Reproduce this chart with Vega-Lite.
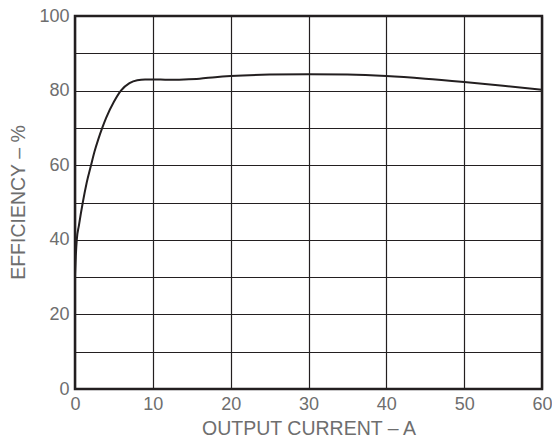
{
  "$schema": "https://vega.github.io/schema/vega-lite/v6.json",
  "width": 467,
  "height": 373,
  "autosize": {"type": "none"},
  "padding": {"left": 75, "top": 16, "right": 10, "bottom": 49},
  "background": "white",
  "config": {
    "view": {"stroke": "#231f20", "strokeWidth": 2.5},
    "axis": {
      "labelFont": "Liberation Sans",
      "titleFont": "Liberation Sans",
      "labelColor": "#6e6e6e",
      "titleColor": "#6e6e6e",
      "labelFontSize": 18,
      "titleFontSize": 19.5,
      "labelFontWeight": "normal",
      "titleFontWeight": "normal",
      "gridColor": "#231f20",
      "gridWidth": 1.2,
      "gridOpacity": 1,
      "domain": false,
      "ticks": false
    }
  },
  "data": {
    "values": [
      {"current": 0, "efficiency": 30.5},
      {"current": 0.1, "efficiency": 35.5},
      {"current": 0.23, "efficiency": 40},
      {"current": 0.5, "efficiency": 43.8},
      {"current": 1.0, "efficiency": 50},
      {"current": 1.5, "efficiency": 55.3},
      {"current": 2.06, "efficiency": 60},
      {"current": 2.5, "efficiency": 63.6},
      {"current": 3.0, "efficiency": 67},
      {"current": 3.5, "efficiency": 70},
      {"current": 4.0, "efficiency": 72.7},
      {"current": 5.0, "efficiency": 77},
      {"current": 5.9, "efficiency": 80},
      {"current": 7.0, "efficiency": 82},
      {"current": 8.0, "efficiency": 82.8},
      {"current": 9.0, "efficiency": 83},
      {"current": 10, "efficiency": 83},
      {"current": 12, "efficiency": 82.9},
      {"current": 14, "efficiency": 83},
      {"current": 16, "efficiency": 83.2},
      {"current": 18, "efficiency": 83.6},
      {"current": 20, "efficiency": 83.9},
      {"current": 25, "efficiency": 84.3},
      {"current": 30, "efficiency": 84.4},
      {"current": 35, "efficiency": 84.3},
      {"current": 40, "efficiency": 83.9},
      {"current": 45, "efficiency": 83.2},
      {"current": 50, "efficiency": 82.3},
      {"current": 55, "efficiency": 81.3},
      {"current": 60, "efficiency": 80.2}
    ]
  },
  "mark": {"type": "line", "interpolate": "monotone", "color": "#231f20", "strokeWidth": 2, "clip": true},
  "encoding": {
    "x": {
      "field": "current",
      "type": "quantitative",
      "scale": {"domain": [0, 60], "nice": false, "zero": false},
      "axis": {
        "title": "OUTPUT CURRENT – A",
        "values": [0, 10, 20, 30, 40, 50, 60],
        "labelPadding": 6,
        "labelFlush": false,
        "titleY": 39,
        "titleBaseline": "middle"
      }
    },
    "y": {
      "field": "efficiency",
      "type": "quantitative",
      "scale": {"domain": [0, 100], "nice": false, "zero": false},
      "axis": {
        "title": "EFFICIENCY – %",
        "values": [0, 10, 20, 30, 40, 50, 60, 70, 80, 90, 100],
        "labelExpr": "datum.value % 20 == 0 ? datum.label : ''",
        "labelPadding": 6,
        "labelFlush": false,
        "titleX": -57,
        "titleY": 186,
        "titleAngle": -90,
        "titleAlign": "center",
        "titleBaseline": "middle"
      }
    }
  }
}
